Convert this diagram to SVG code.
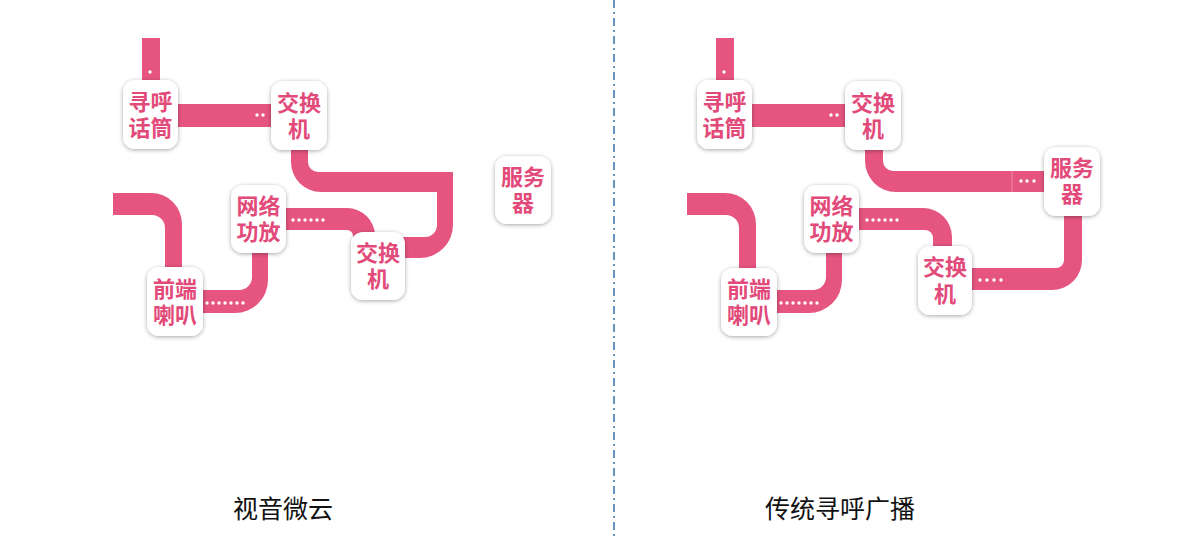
<svg xmlns="http://www.w3.org/2000/svg" width="1200" height="537" viewBox="0 0 1200 537">
  <style>
    .bar { fill: #e6557f; }
    .dot { fill: #ffffff; }
    .box { fill: #ffffff; filter: url(#shadow); }
    .nt { font-family: "Noto Sans CJK SC", "Noto Sans", sans-serif; font-size: 22px; font-weight: bold; fill: #e24a7a; text-anchor: middle; }
    .cap { font-family: "Noto Sans CJK SC", "Noto Sans", sans-serif; font-size: 25px; fill: #111111; text-anchor: middle; }
  </style>
  <defs>
    <filter id="shadow" x="-30%" y="-30%" width="160%" height="160%">
      <feDropShadow dx="0" dy="1" stdDeviation="2" flood-color="#000000" flood-opacity="0.35"/>
    </filter>
  </defs>
  <rect x="0" y="0" width="1200" height="537" fill="#ffffff"/>

  <line x1="614" y1="0" x2="614" y2="537" stroke="#2a64a0" stroke-width="1.4" stroke-dasharray="8,4,2,4"/>

  <g id="connectors">
    <!-- left panel -->
    <rect class="bar" x="142" y="38" width="18" height="44"/>
    <rect class="bar" x="176" y="104" width="97" height="23"/>
    <path class="bar" d="M291,148 V162 A30,30 0 0 0 321,192 H437 V225 A12,12 0 0 1 425,237 H400 V258 H420 A33,33 0 0 0 453,225 V172 H318 A10,10 0 0 1 308,162 V148 Z"/>
    <path class="bar" d="M284,208 H347 A28,28 0 0 1 375,236 V240 H353 V236 A6,6 0 0 0 347,230 H284 Z"/>
    <path class="bar" d="M113,193 H151 A31,31 0 0 1 182,224 V272 H165 V228 A13,13 0 0 0 152,215 H113 Z"/>
    <path class="bar" d="M201,290 H239 A13,13 0 0 0 252,277 V250 H268 V280 A33,33 0 0 1 235,313 H201 Z"/>
    <!-- right panel -->
    <rect class="bar" x="716" y="38" width="18" height="44"/>
    <rect class="bar" x="750" y="104" width="97" height="23"/>
    <path class="bar" d="M865,148 V161 A31,31 0 0 0 896,192 H1046 V171 H893 A10,10 0 0 1 883,161 V148 Z"/>
    <line x1="1012" y1="171" x2="1012" y2="192" stroke="#f08aaa" stroke-width="1"/>
    <path class="bar" d="M858,208 H923 A29,29 0 0 1 952,237 V250 H933 V238 A8,8 0 0 0 925,230 H858 Z"/>
    <path class="bar" d="M687,193 H725 A31,31 0 0 1 756,224 V272 H739 V228 A13,13 0 0 0 726,215 H687 Z"/>
    <path class="bar" d="M775,290 H813 A13,13 0 0 0 826,277 V250 H842 V280 A33,33 0 0 1 809,313 H775 Z"/>
    <path class="bar" d="M970,268 H1056 A8,8 0 0 0 1064,260 V212 H1082 V260 A30,30 0 0 1 1052,290 H970 Z"/>

    <!-- dots left -->
    <circle class="dot" cx="150" cy="72" r="1.7"/>
    <circle class="dot" cx="257" cy="115" r="1.7"/>
    <circle class="dot" cx="263" cy="115" r="1.7"/>
    <circle class="dot" cx="293" cy="220" r="1.7"/>
    <circle class="dot" cx="299" cy="220" r="1.7"/>
    <circle class="dot" cx="305" cy="220" r="1.7"/>
    <circle class="dot" cx="311" cy="220" r="1.7"/>
    <circle class="dot" cx="317" cy="220" r="1.7"/>
    <circle class="dot" cx="323" cy="220" r="1.7"/>
    <circle class="dot" cx="207" cy="303" r="1.7"/>
    <circle class="dot" cx="213" cy="303" r="1.7"/>
    <circle class="dot" cx="219" cy="303" r="1.7"/>
    <circle class="dot" cx="225" cy="303" r="1.7"/>
    <circle class="dot" cx="231" cy="303" r="1.7"/>
    <circle class="dot" cx="237" cy="303" r="1.7"/>
    <circle class="dot" cx="243" cy="303" r="1.7"/>
    <!-- dots right -->
    <circle class="dot" cx="724" cy="72" r="1.7"/>
    <circle class="dot" cx="831" cy="115" r="1.7"/>
    <circle class="dot" cx="837" cy="115" r="1.7"/>
    <circle class="dot" cx="867" cy="220" r="1.7"/>
    <circle class="dot" cx="873" cy="220" r="1.7"/>
    <circle class="dot" cx="879" cy="220" r="1.7"/>
    <circle class="dot" cx="885" cy="220" r="1.7"/>
    <circle class="dot" cx="891" cy="220" r="1.7"/>
    <circle class="dot" cx="897" cy="220" r="1.7"/>
    <circle class="dot" cx="781" cy="303" r="1.7"/>
    <circle class="dot" cx="787" cy="303" r="1.7"/>
    <circle class="dot" cx="793" cy="303" r="1.7"/>
    <circle class="dot" cx="799" cy="303" r="1.7"/>
    <circle class="dot" cx="805" cy="303" r="1.7"/>
    <circle class="dot" cx="811" cy="303" r="1.7"/>
    <circle class="dot" cx="817" cy="303" r="1.7"/>
    <circle class="dot" cx="1021" cy="181" r="1.7"/>
    <circle class="dot" cx="1027" cy="181" r="1.7"/>
    <circle class="dot" cx="1034" cy="181" r="1.7"/>
    <circle class="dot" cx="980" cy="280" r="1.7"/>
    <circle class="dot" cx="987" cy="280" r="1.7"/>
    <circle class="dot" cx="994" cy="280" r="1.7"/>
    <circle class="dot" cx="1001" cy="280" r="1.7"/>
  </g>

  <!-- left panel nodes -->
  <g id="L-paging-mic">
    <rect class="box" x="123" y="80" width="55" height="69" rx="12"/>
    <text class="nt" x="150.5" y="110">寻呼</text>
    <text class="nt" x="150.5" y="136">话筒</text>
  </g>
  <g id="L-switch-top">
    <rect class="box" x="271" y="81" width="56" height="69" rx="12"/>
    <text class="nt" x="299" y="111">交换</text>
    <text class="nt" x="299" y="137">机</text>
  </g>
  <g id="L-amplifier">
    <rect class="box" x="231" y="185" width="55" height="68" rx="12"/>
    <text class="nt" x="258.5" y="214">网络</text>
    <text class="nt" x="258.5" y="240">功放</text>
  </g>
  <g id="L-switch-bottom">
    <rect class="box" x="351" y="232" width="54" height="68" rx="12"/>
    <text class="nt" x="378" y="261">交换</text>
    <text class="nt" x="378" y="287">机</text>
  </g>
  <g id="L-speaker">
    <rect class="box" x="147" y="267" width="56" height="69" rx="12"/>
    <text class="nt" x="175" y="297">前端</text>
    <text class="nt" x="175" y="323">喇叭</text>
  </g>
  <g id="L-server">
    <rect class="box" x="495" y="156" width="56" height="68" rx="12"/>
    <text class="nt" x="523" y="185">服务</text>
    <text class="nt" x="523" y="211">器</text>
  </g>

  <!-- right panel nodes -->
  <g id="R-paging-mic">
    <rect class="box" x="697" y="80" width="55" height="69" rx="12"/>
    <text class="nt" x="724.5" y="110">寻呼</text>
    <text class="nt" x="724.5" y="136">话筒</text>
  </g>
  <g id="R-switch-top">
    <rect class="box" x="845" y="81" width="56" height="69" rx="12"/>
    <text class="nt" x="873" y="111">交换</text>
    <text class="nt" x="873" y="137">机</text>
  </g>
  <g id="R-amplifier">
    <rect class="box" x="804" y="185" width="55" height="68" rx="12"/>
    <text class="nt" x="831.5" y="214">网络</text>
    <text class="nt" x="831.5" y="240">功放</text>
  </g>
  <g id="R-switch-bottom">
    <rect class="box" x="918" y="246" width="54" height="69" rx="12"/>
    <text class="nt" x="945" y="275">交换</text>
    <text class="nt" x="945" y="302">机</text>
  </g>
  <g id="R-speaker">
    <rect class="box" x="721" y="268" width="56" height="68" rx="12"/>
    <text class="nt" x="749" y="297">前端</text>
    <text class="nt" x="749" y="323">喇叭</text>
  </g>
  <g id="R-server">
    <rect class="box" x="1044" y="147" width="56" height="69" rx="12"/>
    <text class="nt" x="1072" y="176">服务</text>
    <text class="nt" x="1072" y="202">器</text>
  </g>

  <text class="cap" x="283" y="518">视音微云</text>
  <text class="cap" x="840" y="518">传统寻呼广播</text>
</svg>
